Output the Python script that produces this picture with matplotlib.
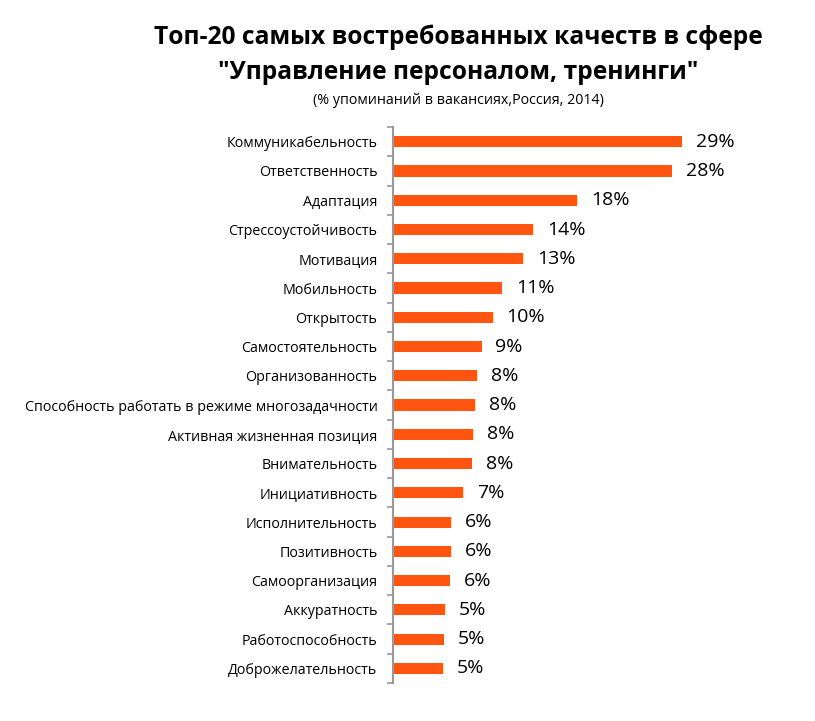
import numpy as np
import matplotlib
matplotlib.use("Agg")
import matplotlib.pyplot as plt

plt.rcParams['font.family'] = ['Open Sans', 'DejaVu Sans']

qualities = ["Коммуникабельность", "Ответственность", "Адаптация", "Стрессоустойчивость",
             "Мотивация", "Мобильность", "Открытость", "Самостоятельность",
             "Организованность", "Способность работать в режиме многозадачности",
             "Активная жизненная позиция", "Внимательность", "Инициативность",
             "Исполнительность", "Позитивность", "Самоорганизация", "Аккуратность",
             "Работоспособность", "Доброжелательность"]
values = [29.0, 28.0, 18.5, 14.1, 13.1, 11.0, 10.0, 8.9, 8.4, 8.2,
          8.0, 7.9, 7.05, 5.8, 5.8, 5.7, 5.2, 5.1, 5.0]
value_labels = ["29%", "28%", "18%", "14%", "13%", "11%", "10%", "9%", "8%", "8%",
                "8%", "8%", "7%", "6%", "6%", "6%", "5%", "5%", "5%"]

fig = plt.figure(figsize=(8.15, 7.21), dpi=100)
ax = fig.add_axes([0.4818, 0.0527, 0.49, 0.771])

y = np.arange(len(qualities))
ax.barh(y, values, height=0.38, color="#FF5511")
for yi, v, lab in zip(y, values, value_labels):
    ax.text(v + 1.4, yi, lab, va="center", ha="left", fontsize=14, color="black")

ax.set_xlim(0, 40)
ax.set_ylim(len(qualities) - 0.5, -0.5)
ax.set_yticks(y)
ax.set_yticklabels(qualities, fontsize=10.3)
ax.tick_params(axis="y", which="major", length=0, pad=11)
ax.set_yticks(np.arange(len(qualities) + 1) - 0.5, minor=True)
ax.tick_params(axis="y", which="minor", length=4, color="#999999", width=1.2)
ax.set_xticks([])
for s in ["top", "right", "bottom"]:
    ax.spines[s].set_visible(False)
ax.spines["left"].set_color("#999999")
ax.spines["left"].set_linewidth(1.5)

fig.text(0.562, 0.949, "Топ-20 самых востребованных качеств в сфере", ha="center", va="center",
         fontsize=17.7, fontweight="bold")
fig.text(0.562, 0.899, "\"Управление персоналом, тренинги\"", ha="center", va="center",
         fontsize=17.7, fontweight="bold")
fig.text(0.562, 0.861, "(% упоминаний в вакансиях,Россия, 2014)", ha="center", va="center",
         fontsize=10.3)

fig.savefig("out.png", dpi=100)
